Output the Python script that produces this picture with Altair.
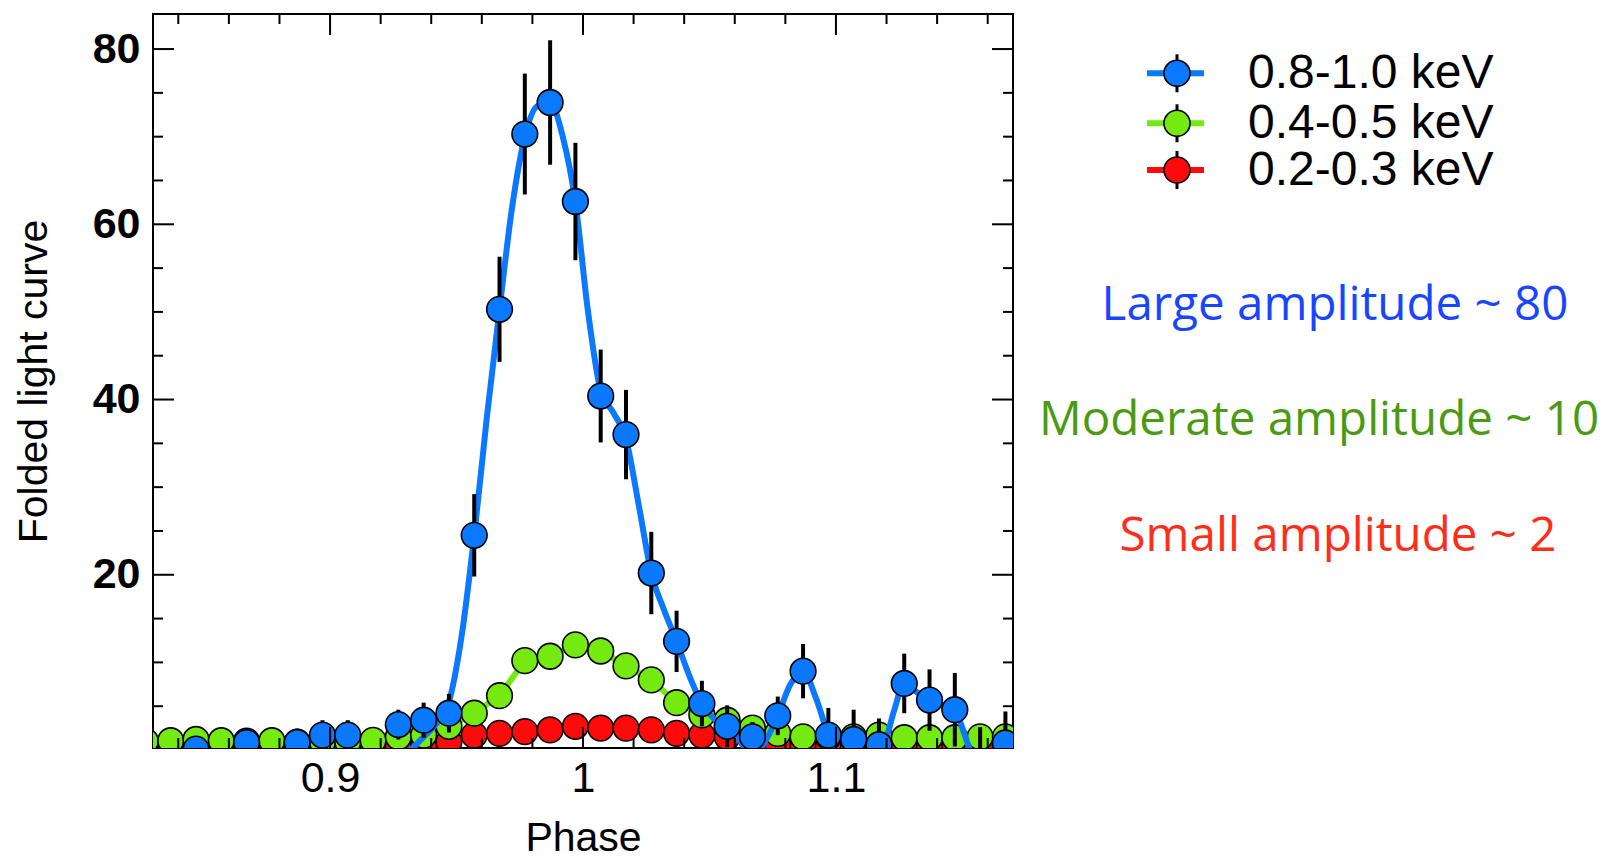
import altair as alt
import pandas as pd

# ---------------- data ----------------
phase = [0.827, 0.837, 0.847, 0.857, 0.867, 0.877, 0.887, 0.897, 0.907, 0.917,
         0.927, 0.937, 0.947, 0.957, 0.967, 0.977, 0.987, 0.997, 1.007, 1.017,
         1.027, 1.037, 1.047, 1.057, 1.067, 1.077, 1.087, 1.097, 1.107, 1.117,
         1.127, 1.137, 1.147, 1.157, 1.167]

blue_val = [-1.8, -1.8, 0.1, -1.8, 0.85, -1.8, 0.85, 1.7, 1.7, -1.8,
            2.9, 3.4, 4.2, 24.5, 50.3, 70.3, 73.9, 62.6, 40.4, 36.0,
            20.2, 12.4, 5.3, 2.7, 1.5, 3.9, 9.0, 1.7, 1.2, 0.6,
            7.6, 5.7, 4.6, -1.5, 0.8]
blue_err = [2.0, 2.0, 1.5, 2.0, 1.6, 2.0, 1.6, 1.7, 1.7, 2.0,
            1.7, 2.0, 2.2, 4.7, 6.0, 6.9, 7.1, 6.7, 5.3, 5.1,
            4.7, 3.5, 2.6, 2.4, 1.7, 2.2, 3.1, 3.1, 3.4, 3.0,
            3.4, 3.5, 4.2, 4.1, 3.6]

green_val = [1.0, 1.06, 1.2, 1.06, 1.0, 1.06, 0.9, 0.9, 0.9, 1.1,
             1.5, 1.7, 2.7, 4.2, 6.2, 10.2, 10.7, 12.0, 11.3, 9.6,
             8.0, 5.4, 4.0, 3.4, 2.5, 1.9, 1.5, 1.5, 1.5, 1.7,
             1.4, 1.4, 1.4, 1.5, 1.5]
green_err = [0.7, 0.7, 0.7, 0.7, 0.7, 0.7, 0.7, 0.7, 0.7, 0.7,
             0.8, 0.8, 0.8, 0.9, 0.9, 1.0, 1.0, 1.0, 1.0, 1.0,
             0.9, 0.9, 0.9, 0.8, 0.8, 0.8, 0.8, 0.8, 0.8, 0.8,
             0.8, 0.8, 0.8, 0.9, 0.9]

red_val = [0.4, 0.4, 0.4, 0.4, 0.4, 0.4, 0.4, 0.4, 0.4, 0.4,
           0.5, 0.6, 0.95, 1.7, 1.9, 2.1, 2.3, 2.7, 2.5, 2.5,
           2.3, 1.9, 1.7, 1.5, 1.0, 0.6, 0.4, 0.4, 0.4, 0.4,
           0.4, 0.4, 0.4, 0.4, 0.4]
red_err = [0.4, 0.4, 0.4, 0.4, 0.4, 0.4, 0.4, 0.4, 0.4, 0.4,
           0.4, 0.4, 0.5, 0.5, 0.5, 0.5, 0.5, 0.5, 0.5, 0.5,
           0.5, 0.5, 0.5, 0.5, 0.4, 0.4, 0.4, 0.4, 0.4, 0.4,
           0.4, 0.4, 0.4, 0.4, 0.4]

# smooth model curve drawn through the 0.8-1.0 keV profile
curve_phase = [0.920, 0.930, 0.937, 0.942, 0.947, 0.952, 0.957, 0.962, 0.967, 0.972,
               0.977, 0.982, 0.987, 0.992, 0.997, 1.002, 1.007, 1.012, 1.017, 1.022,
               1.027, 1.032, 1.037, 1.042, 1.047, 1.052, 1.057, 1.062, 1.065, 1.070,
               1.073, 1.077, 1.082, 1.087, 1.092, 1.097, 1.102, 1.110, 1.115, 1.119,
               1.123, 1.127, 1.132, 1.137, 1.142, 1.147, 1.150, 1.153, 1.160]
curve_val = [-3.0, -0.5, 1.5, 3.0, 5.5, 13.0, 24.5, 38.0, 50.3, 62.0,
             70.0, 73.5, 73.8, 70.0, 62.5, 50.0, 41.0, 38.5, 35.5, 28.0,
             20.2, 16.0, 12.4, 8.5, 5.3, 3.5, 2.7, 1.0, 0.0, 0.2,
             1.5, 3.9, 7.5, 9.0, 6.0, 1.7, -1.5, -3.0, -1.0, 0.5,
             4.5, 7.6, 6.6, 5.7, 5.1, 4.6, 2.5, 0.0, -3.0]

series_labels = ["0.8-1.0 keV", "0.4-0.5 keV", "0.2-0.3 keV"]
series_colors = ["#0a78ff", "#74ea10", "#ff0a0a"]

notes = ["Large amplitude ~ 80", "Moderate amplitude ~ 10", "Small amplitude ~ 2"]
note_colors = ["#1845ff", "#4b9a14", "#ff2e1a"]

x_major = [0.9, 1.0, 1.1]
x_minor = [0.84, 0.86, 0.88, 0.92, 0.94, 0.96, 0.98, 1.02, 1.04, 1.06, 1.08, 1.12, 1.14, 1.16]
y_major = [20, 40, 60, 80]
y_minor = [5, 10, 15, 25, 30, 35, 45, 50, 55, 65, 70, 75]

# ---------------- layout ----------------
W, H = 860, 734
FONT = "Liberation Sans"

xscale = alt.Scale(domain=[0.83, 1.17], nice=False, zero=False)
yscale = alt.Scale(domain=[0.23, 84.0], nice=False, zero=False)
xaxis = alt.Axis(title="Phase", values=x_major, format="~g", ticks=False, domain=False,
                 grid=False, labelFontSize=43, labelFont=FONT, labelColor="black",
                 labelPadding=9, titleFont=FONT, titleFontSize=41, titleFontWeight="normal",
                 titleColor="black", titlePadding=18, labelFlush=False)
yaxis = alt.Axis(title="Folded light curve", values=y_major, format="d", ticks=False,
                 domain=False, grid=False, labelFontSize=43, labelFont=FONT,
                 labelFontWeight="bold", labelColor="black", labelPadding=13,
                 titleFont=FONT, titleFontSize=41, titleFontWeight="normal",
                 titleColor="black", titlePadding=37, labelFlush=False)


def X(f):
    return alt.X(f, type="quantitative", scale=xscale, axis=xaxis)


def Y(f):
    return alt.Y(f, type="quantitative", scale=yscale, axis=yaxis)


def series_df(vals, errs):
    df = pd.DataFrame({"phase": phase, "value": vals, "err": errs})
    df["lo"] = df["value"] - df["err"]
    df["hi"] = df["value"] + df["err"]
    return df


layers = []

# red, green (with connecting lines), then blue (with smooth model curve)
for vals, errs, color, kind in [(red_val, red_err, series_colors[2], "line"),
                                (green_val, green_err, series_colors[1], "line"),
                                (blue_val, blue_err, series_colors[0], "curve")]:
    df = series_df(vals, errs)
    base = alt.Chart(df)
    if kind == "line":
        layers.append(base.mark_line(color=color, strokeWidth=6, clip=True).encode(
            x=X("phase"), y=Y("value")))
    else:
        cdf = pd.DataFrame({"phase": curve_phase, "value": curve_val})
        layers.append(alt.Chart(cdf).mark_line(color=color, strokeWidth=6, clip=True,
                                               interpolate="monotone").encode(
            x=X("phase"), y=Y("value")))
    layers.append(base.mark_rule(color="black", strokeWidth=4, clip=True).encode(
        x=X("phase"), y=Y("lo"), y2="hi"))
    layers.append(base.mark_point(shape="circle", filled=True, fill=color, stroke="black",
                                  strokeWidth=1.6, size=660, opacity=1, clip=True).encode(
        x=X("phase"), y=Y("value")))

# inward ticks on all four sides
for vals, length in [(x_major, 21), (x_minor, 10)]:
    tdf = pd.DataFrame({"phase": vals})
    layers.append(alt.Chart(tdf).mark_rule(color="black", strokeWidth=2).encode(
        x=X("phase"), y=alt.value(0), y2=alt.value(length)))
    layers.append(alt.Chart(tdf).mark_rule(color="black", strokeWidth=2).encode(
        x=X("phase"), y=alt.value(H), y2=alt.value(H - length)))
for vals, length in [(y_major, 21), (y_minor, 10)]:
    tdf = pd.DataFrame({"value": vals})
    layers.append(alt.Chart(tdf).mark_rule(color="black", strokeWidth=2).encode(
        y=Y("value"), x=alt.value(0), x2=alt.value(length)))
    layers.append(alt.Chart(tdf).mark_rule(color="black", strokeWidth=2).encode(
        y=Y("value"), x=alt.value(W), x2=alt.value(W - length)))

# legend (drawn by hand, top right)
leg_x = 1024
leg_y = [59.3, 109.3, 156.0]
for label, color, yy in zip(series_labels, series_colors, leg_y):
    ldf = pd.DataFrame({"label": [label]})
    lc = alt.Chart(ldf)
    layers.append(lc.mark_rule(color=color, strokeWidth=6).encode(
        x=alt.value(leg_x - 30), x2=alt.value(leg_x + 27), y=alt.value(yy)))
    layers.append(lc.mark_rule(color="black", strokeWidth=3).encode(
        x=alt.value(leg_x), y=alt.value(yy - 19), y2=alt.value(yy + 19)))
    layers.append(lc.mark_point(shape="circle", filled=True, fill=color, stroke="black",
                                strokeWidth=1.6, size=680, opacity=1).encode(
        x=alt.value(leg_x), y=alt.value(yy)))
    layers.append(lc.mark_text(align="left", baseline="middle", fontSize=48, font=FONT,
                               color="black").encode(
        x=alt.value(1095), y=alt.value(yy + 1), text="label:N"))

# coloured annotations
note_pos = [(1182, 292), (1166, 407), (1185, 523)]
for note, color, (nx, ny) in zip(notes, note_colors, note_pos):
    ndf = pd.DataFrame({"note": [note]})
    layers.append(alt.Chart(ndf).mark_text(align="center", baseline="middle", fontSize=47.5,
                                           font="Open Sans", color=color).encode(
        x=alt.value(nx), y=alt.value(ny), text="note:N"))

chart = alt.layer(*layers).properties(
    width=W, height=H,
    autosize=alt.AutoSizeParams(type="none"),
    padding={"left": 153, "top": 14, "right": 594, "bottom": 108},
    background="white",
).configure_view(stroke="black", strokeWidth=2)

chart.save("out.html", embed_options={"renderer": "svg", "actions": False})
